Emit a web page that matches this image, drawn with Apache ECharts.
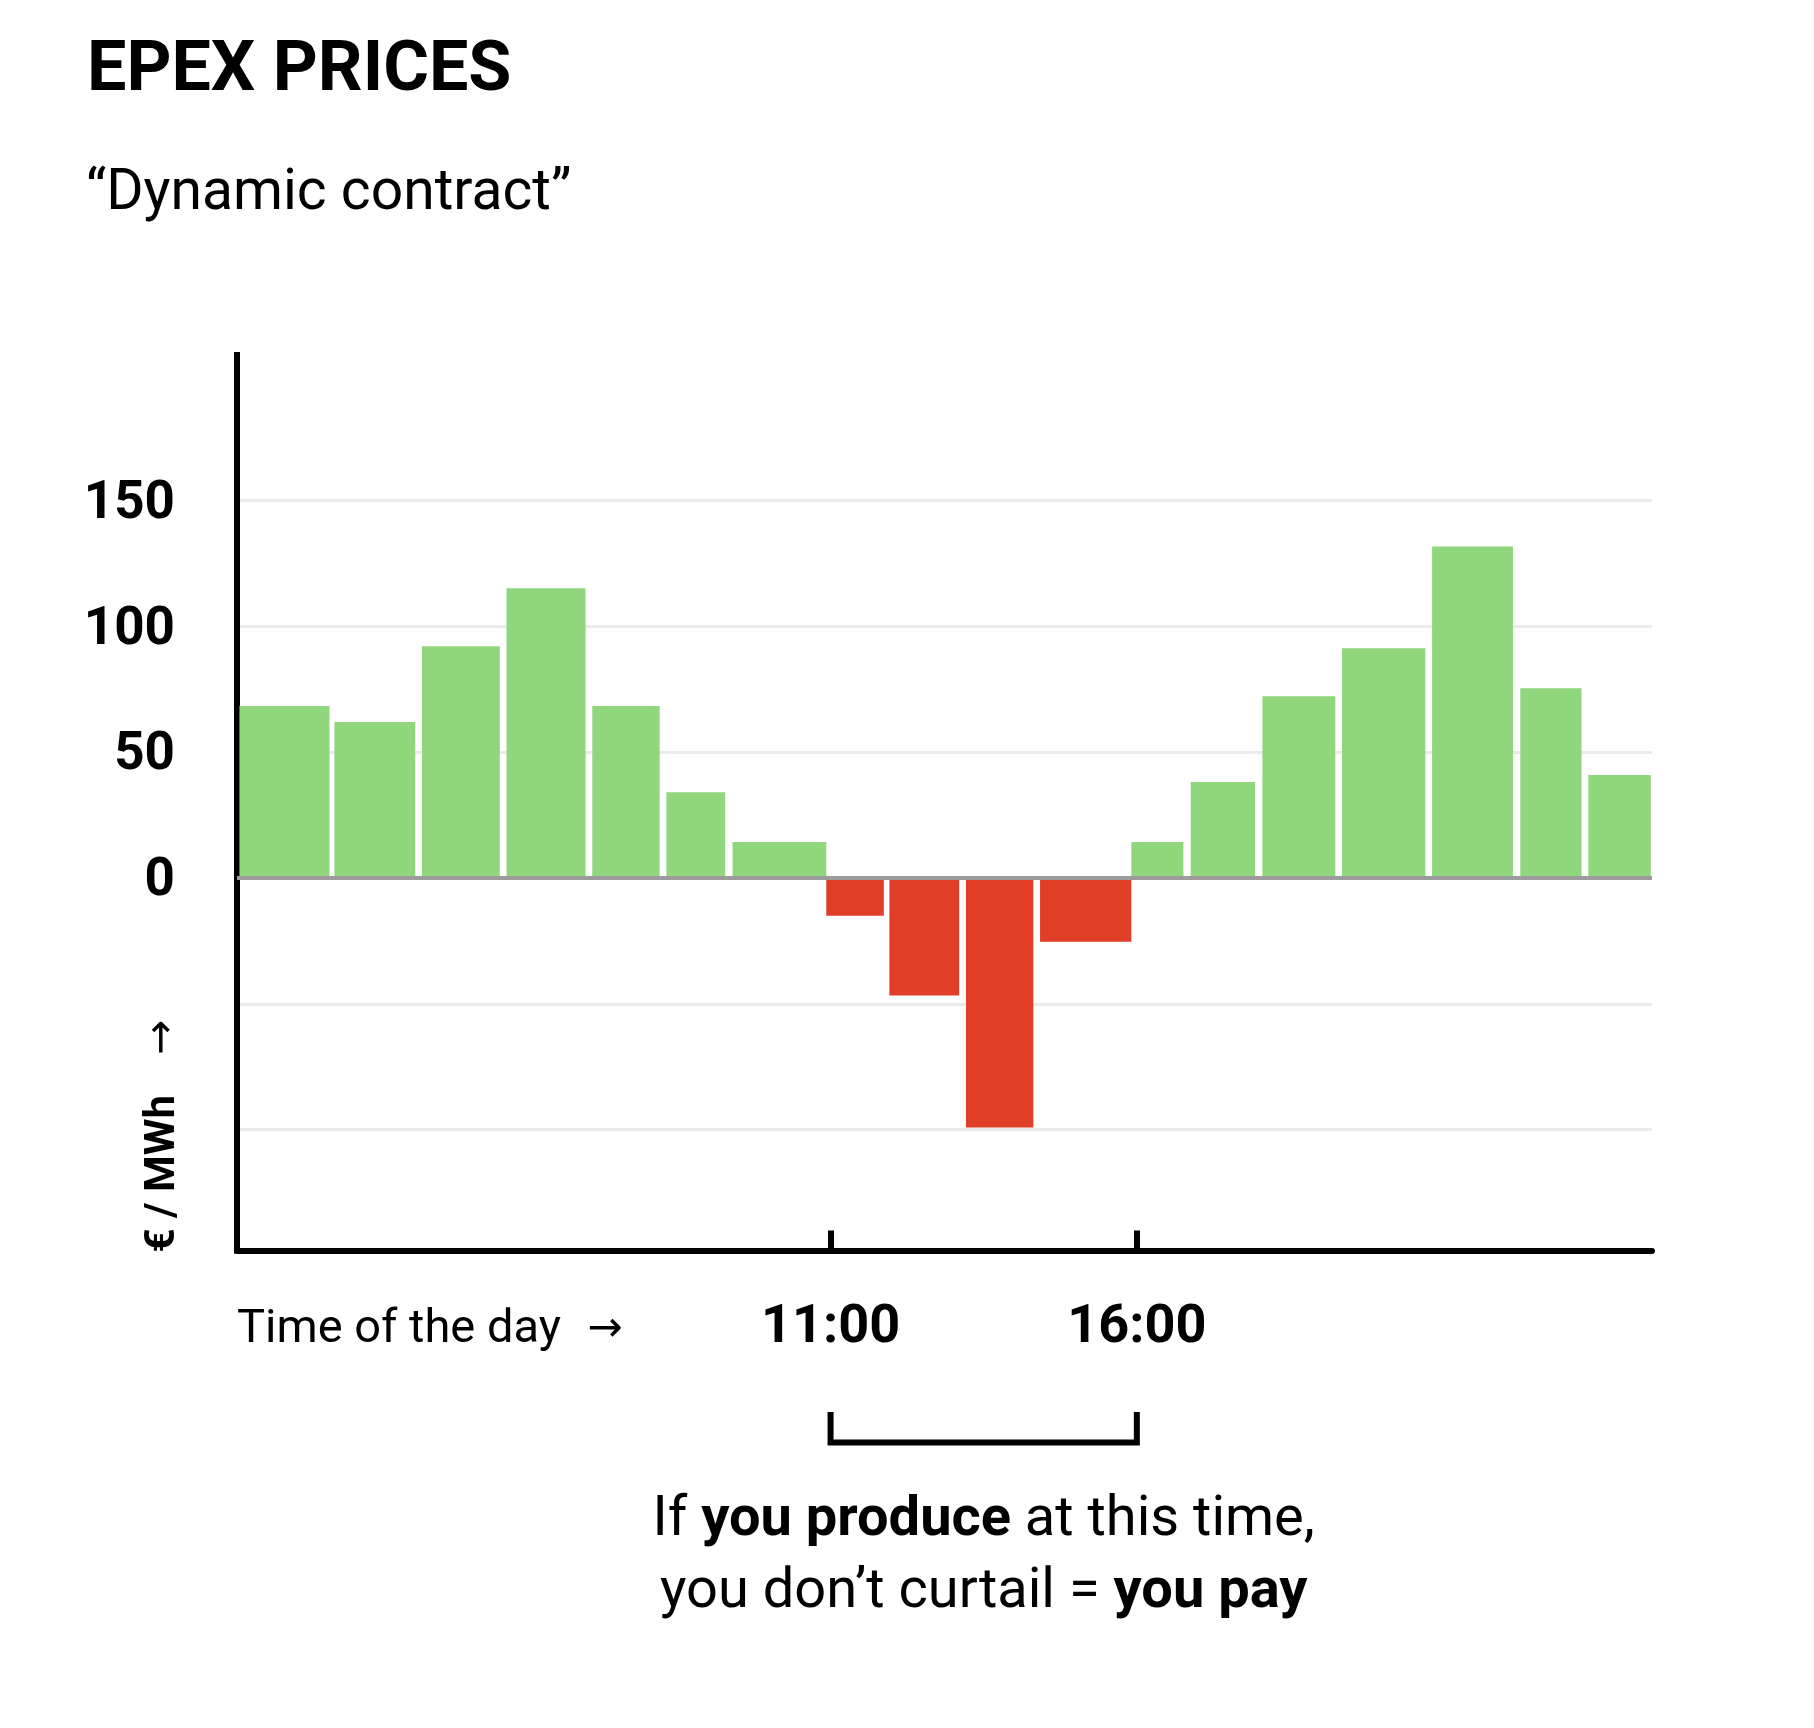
<!DOCTYPE html>
<html>
<head>
<meta charset="utf-8">
<script src="https://cdn.jsdelivr.net/npm/echarts@6/dist/echarts.min.js"></script>
<style>
  html, body { margin: 0; padding: 0; background: #ffffff; }
  #chart { width: 1814px; height: 1728px; }
</style>
</head>
<body>
<div id="chart"></div>
<script>
// ---- data ----
// time span of each bar, in hours of the day
var barStart = [1.35, 2.90, 4.33, 5.71, 7.11, 8.32, 9.40, 10.93, 11.96, 13.21, 14.42, 15.91, 16.88, 18.05, 19.35, 20.82, 22.26, 23.37];
var barEnd   = [2.82, 4.22, 5.60, 7.00, 8.21, 9.28, 10.93, 11.87, 13.10, 14.31, 15.91, 16.76, 17.93, 19.24, 20.71, 22.14, 23.26, 24.39];
// EPEX price, EUR / MWh
var price    = [68.3, 62.0, 92.1, 115.1, 68.3, 34.1, 14.3, -15.0, -46.7, -99.1, -25.3, 14.3, 38.1, 72.2, 91.3, 131.7, 75.4, 40.9];
// axis ticks
var yLabelTicks = [0, 50, 100, 150];
var yGridTicks  = [-100, -50, 0, 50, 100, 150];
var xTicks      = [11, 16];
var xRange      = [1.31, 24.41];
var yRange      = [-148, 207.8];
// texts
var titleText    = 'EPEX PRICES';
var subtitleText = '\u201CDynamic contract\u201D';
var yUnitText    = '\u20AC / MWh';
var xNameText    = 'Time of the day';

var GREEN = '#8fd67c';
var RED   = '#e03e27';
var FONT  = 'Roboto, "Noto Sans", sans-serif';

var chart = echarts.init(document.getElementById('chart'), null, { renderer: 'canvas' });

var seriesData = price.map(function (v, i) { return [barStart[i], barEnd[i], v]; });

var option = {
  backgroundColor: '#ffffff',
  animation: false,
  grid: { left: 237, right: 162, top: 355, bottom: 477.5, containLabel: false },
  xAxis: {
    type: 'value',
    min: xRange[0],
    max: xRange[1],
    splitLine: { show: false },
    axisLine: { show: true, onZero: false, lineStyle: { color: '#000', width: 6 } },
    axisTick: {
      show: true, inside: true, length: 20, customValues: xTicks,
      lineStyle: { color: '#000', width: 6 }
    },
    axisLabel: {
      show: true, customValues: xTicks, margin: 51,
      formatter: function (v) { return v + ':00'; },
      fontFamily: FONT, fontWeight: 'bold', fontSize: 54, color: '#000'
    }
  },
  yAxis: {
    type: 'value',
    min: yRange[0],
    max: yRange[1],
    axisLine: { show: true, lineStyle: { color: '#000', width: 6, cap: 'square' } },
    axisTick: { show: false, customValues: yGridTicks },
    splitLine: { show: true, lineStyle: { color: '#ebebeb', width: 3 } },
    axisLabel: {
      show: true, customValues: yLabelTicks, margin: 62,
      formatter: function (v) { return '{n|' + v + '}'; },
      rich: {
        n: { fontFamily: FONT, fontWeight: 'bold', fontSize: 53, color: '#000', padding: [8, 0, 0, 0] }
      }
    }
  },
  series: [{
    type: 'custom',
    data: seriesData,
    encode: { x: [0, 1], y: 2 },
    renderItem: function (params, api) {
      var s = api.value(0), e = api.value(1), v = api.value(2);
      var pTop = api.coord([s, v]);
      var pBase = api.coord([e, 0]);
      var y = Math.min(pTop[1], pBase[1]);
      var h = Math.abs(pBase[1] - pTop[1]);
      return {
        type: 'rect',
        shape: { x: pTop[0], y: y, width: pBase[0] - pTop[0], height: h },
        style: { fill: v >= 0 ? GREEN : RED }
      };
    },
    markLine: {
      silent: true,
      symbol: ['none', 'none'],
      label: { show: false },
      lineStyle: { color: '#9c9c9c', width: 4, type: 'solid' },
      data: [{ yAxis: 0 }]
    },
    z: 2
  }]
};

chart.setOption(option);

// helper overlays positioned through the chart's own scales
var x11 = chart.convertToPixel({ xAxisIndex: 0 }, xTicks[0]);
var x16 = chart.convertToPixel({ xAxisIndex: 0 }, xTicks[1]);
var yBottom = chart.convertToPixel({ yAxisIndex: 0 }, yRange[0]);

chart.setOption({
  graphic: [
    {
      type: 'text', x: 87, y: 72,
      style: { text: titleText, font: 'bold 70px ' + FONT, fill: '#000', verticalAlign: 'middle', align: 'left' }
    },
    {
      type: 'text', x: 86, y: 195,
      style: { text: subtitleText, font: '57px ' + FONT, fill: '#000', verticalAlign: 'middle', align: 'left' }
    },
    {
      type: 'text', x: 163, y: yBottom + 2, rotation: Math.PI / 2,
      style: {
        text: '{b|' + yUnitText + '}{a|   \u2192}',
        align: 'left', verticalAlign: 'middle',
        rich: {
          b: { font: 'bold 42px ' + FONT, fill: '#000' },
          a: { font: '42px "DejaVu Sans", ' + FONT, fill: '#000' }
        }
      }
    },
    {
      type: 'text', x: 237, y: 1330,
      style: {
        text: '{r|' + xNameText + '}{a|  \u2192}',
        align: 'left', verticalAlign: 'middle',
        rich: {
          r: { font: '47px ' + FONT, fill: '#000' },
          a: { font: '42px "DejaVu Sans", ' + FONT, fill: '#000' }
        }
      }
    },
    {
      type: 'polyline',
      shape: { points: [[x11, 1412], [x11, 1442.5], [x16, 1442.5], [x16, 1412]] },
      style: { stroke: '#000', lineWidth: 6, fill: null, lineJoin: 'miter' }
    },
    {
      type: 'text', x: (x11 + x16) / 2, y: 1557,
      style: {
        text: '{r|If }{b|you produce}{r| at this time,}\n{r|you don\u2019t curtail = }{b|you pay}',
        align: 'center', verticalAlign: 'middle',
        rich: {
          r: { font: '56px ' + FONT, fill: '#000', lineHeight: 72 },
          b: { font: 'bold 56px ' + FONT, fill: '#000', lineHeight: 72 }
        }
      }
    }
  ]
});
</script>
</body>
</html>
